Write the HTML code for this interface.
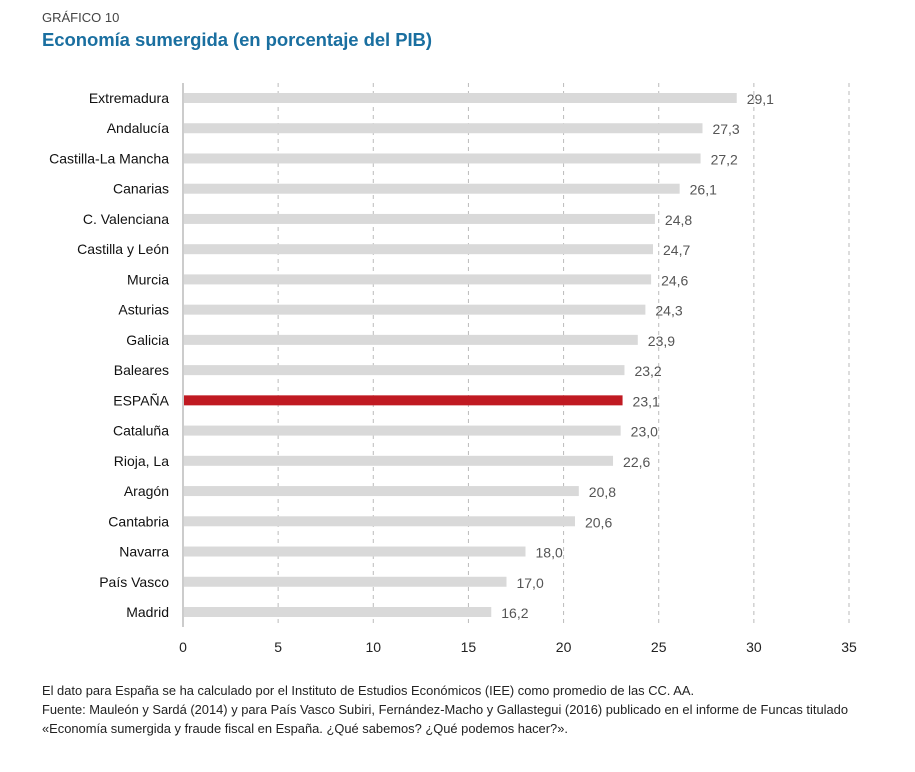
<!DOCTYPE html>
<html><head><meta charset="utf-8"><style>
body{margin:0;background:#fff;font-family:"Liberation Sans",sans-serif}
</style></head><body>
<svg width="915" height="767" xmlns="http://www.w3.org/2000/svg" font-family="Liberation Sans, sans-serif">
<text x="42" y="22" font-size="13" fill="#444">GRÁFICO 10</text>
<text x="42" y="46" font-size="18.5" font-weight="bold" fill="#1a6fa0" textLength="390">Economía sumergida (en porcentaje del PIB)</text>
<g id="plot"></g>
<g font-size="12.9" fill="#222">
<text x="42" y="695">El dato para España se ha calculado por el Instituto de Estudios Económicos (IEE) como promedio de las CC. AA.</text>
<text x="42" y="714" textLength="806">Fuente: Mauleón y Sardá (2014) y para País Vasco Subiri, Fernández-Macho y Gallastegui (2016) publicado en el informe de Funcas titulado</text>
<text x="42" y="733">«Economía sumergida  y fraude fiscal en España. ¿Qué sabemos? ¿Qué podemos hacer?».</text>
</g>
</svg>
<script>
const categories=["Extremadura","Andalucía","Castilla-La Mancha","Canarias","C. Valenciana","Castilla y León ","Murcia","Asturias","Galicia","Baleares","ESPAÑA","Cataluña","Rioja, La","Aragón","Cantabria","Navarra","País Vasco","Madrid"];
const values=[29.1,27.3,27.2,26.1,24.8,24.7,24.6,24.3,23.9,23.2,23.1,23.0,22.6,20.8,20.6,18.0,17.0,16.2];
const ticks=[0,5,10,15,20,25,30,35];
const NS="http://www.w3.org/2000/svg";
const g=document.getElementById('plot');
const x0=183,x1=849,y0=83,y1=627;
const xs=v=>x0+(v/35)*(x1-x0);
const ys=i=>98+i*(612-98)/(categories.length-1);
function el(t,a){const e=document.createElementNS(NS,t);for(const k in a)e.setAttribute(k,a[k]);g.appendChild(e);return e;}
ticks.forEach(t=>{
  if(t>0){const l=el('line',{x1:xs(t),x2:xs(t),y1:y0,y2:y1,stroke:'#bbb','stroke-dasharray':'4,4'});
  
  }
  const tx=el('text',{x:xs(t),y:652,'text-anchor':'middle','font-size':'14',fill:'#222'});tx.textContent=t;
  
  
});
const ax=el('line',{x1:x0,x2:x0,y1:y0,y2:y1,stroke:'#999'});


categories.forEach((c,i)=>{
  const y=ys(i);
  const r=el('rect',{x:x0+1,y:y-5,width:xs(values[i])-x0-1,height:10,fill:c==='ESPAÑA'?'#c01a22':'#d9d9d9'});
  
  
  const l=el('text',{x:169,y:y+5,'text-anchor':'end','font-size':'14',fill:'#111'});l.textContent=c;
  
  
  const v=el('text',{x:xs(values[i])+10,y:y+6,'font-size':'14',fill:'#555'});v.textContent=values[i].toFixed(1).replace('.',',');
  
  
});
</script>
</body></html>
